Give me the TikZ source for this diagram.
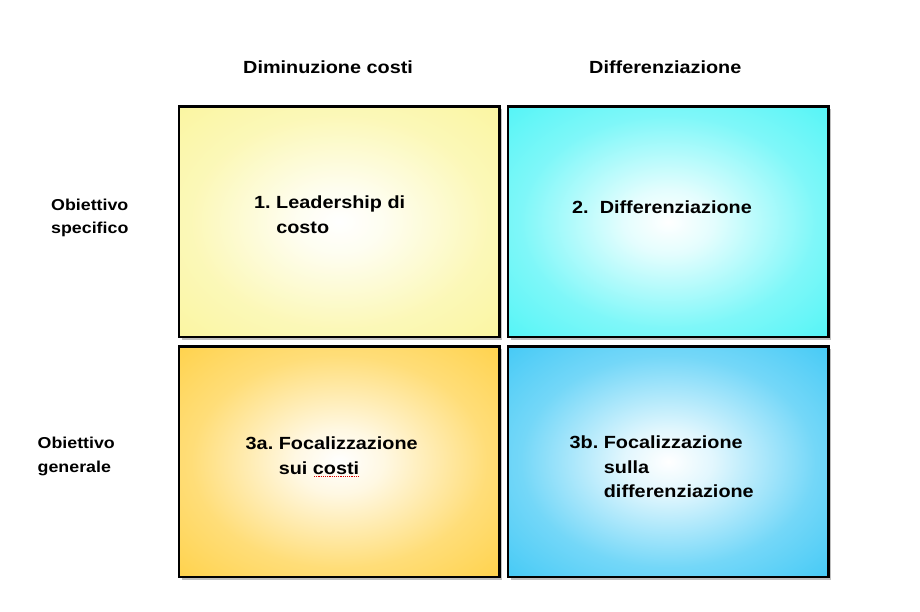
\documentclass[tikz,border=0pt]{standalone}
\usepackage{xcolor}
\usepackage{fontspec}
\setmainfont{Liberation Sans}[FakeStretch=1.127]
\usepackage{tikz}
\usetikzlibrary{shadows}

\definecolor{paleyellow}{HTML}{FAF59A}
\definecolor{aqua}{HTML}{48F4F6}
\definecolor{gold}{HTML}{FFCF3F}
\definecolor{skyblue}{HTML}{38C6F5}

\colorlet{boxcolor}{white}
\pgfdeclareradialshading[boxcolor]{glowing}{\pgfpointorigin}{color(0bp)=(white); color(7bp)=(boxcolor!15!white); color(23bp)=(boxcolor!70!white); color(35bp)=(boxcolor!92!white); color(50bp)=(boxcolor); color(71bp)=(boxcolor)}

\frenchspacing
\begin{document}
\begin{tikzpicture}[x=1pt, y=-1pt,
    cell/.style={draw=black, line width=2.5pt, minimum width=320.5pt, minimum height=230.5pt, inner sep=0pt, shade, shading=glowing,
      drop shadow={shadow xshift=2.5pt, shadow yshift=-3pt, opacity=.45, fill=black!55}},
    glow/.code={\colorlet{boxcolor}{#1}},
    bigtext/.style={font=\fontsize{17.6}{24}\selectfont\bfseries, inner sep=0pt, anchor=base west},
    sidetext/.style={font=\fontsize{15.8}{23}\selectfont\bfseries, inner sep=0pt, anchor=base west}]
             \useasboundingbox (0,0) rectangle (920,612);

             % the four quadrants
             \node[cell, glow=paleyellow] (leader) at (339.25, 221.75) {};
             \node[cell, glow=aqua] (differ) at (668.25, 221.75) {};
             \node[cell, glow=gold] (focost) at (339.25, 461.5) {};
             \node[cell, glow=skyblue] (fodiff) at (668.25, 461.5) {};

             % column and row headings
             \node[bigtext] (costhead) at (243, 73.3) {Diminuzione costi};
             \node[bigtext] (diffhead) at (589, 73.3) {Differenziazione};
             \node[sidetext] (spec1) at (51, 210.5) {Obiettivo};
             \node[sidetext] (spec2) at (51, 233.5) {specifico};
             \node[sidetext] (gen1) at (37.5, 448.5) {Obiettivo};
             \node[sidetext] (gen2) at (37.5, 472) {generale};

             % texts in the quadrants
             \node[bigtext] (lead1) at (254, 208.5) {1. Leadership di};
             \node[bigtext] (lead2) at (254, 233.5) {\phantom{1. }costo};
             \node[bigtext] (diff1) at (572, 213.3) {2.~~Differenziazione};
             \node[bigtext] (foc1) at (245.5, 449) {3a. Focalizzazione};
             \node[bigtext] (foc2) at (245.5, 474) {\phantom{3a. }sui costi};
             \node[bigtext] (focd1) at (569.5, 448.5) {3b. Focalizzazione};
             \node[bigtext] (focd2) at (569.5, 473.2) {\phantom{3b. }sulla};
             \node[bigtext] (focd3) at (569.5, 497.8) {\phantom{3b. }differenziazione};

             \draw[red!85!black, line width=1.1pt, dash pattern=on 1.1pt off 1.1pt] (314, 476.5) -- (360, 476.5);
\end{tikzpicture}
\end{document}
